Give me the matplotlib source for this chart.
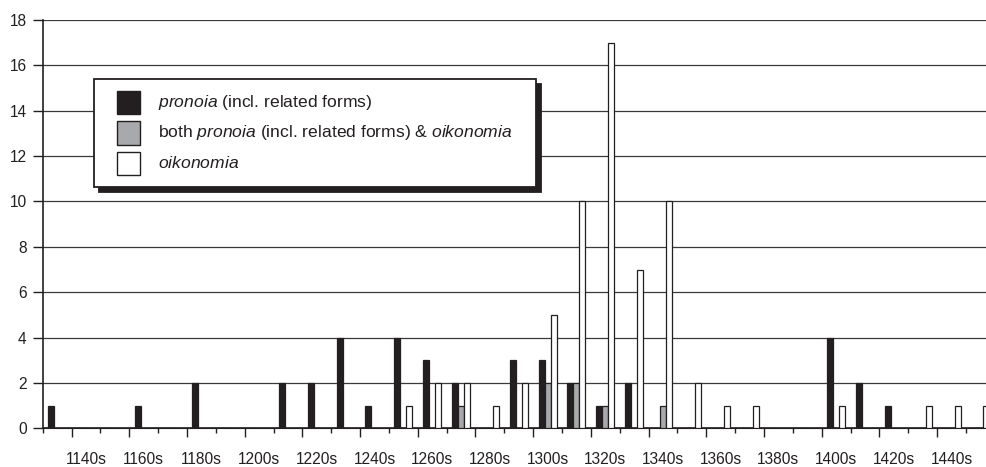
import numpy as np
import matplotlib
matplotlib.use("Agg")
import matplotlib.pyplot as plt
from matplotlib.patches import Rectangle

plt.rcParams["font.family"] = ["Liberation Sans", "DejaVu Sans"]
plt.rcParams["mathtext.fontset"] = "custom"
plt.rcParams["mathtext.rm"] = "Liberation Sans"
plt.rcParams["mathtext.it"] = "Liberation Sans:italic"

# decades shown on the category axis
decades = [1130, 1140, 1150, 1160, 1170, 1180, 1190, 1200, 1210, 1220, 1230,
           1240, 1250, 1260, 1270, 1280, 1290, 1300, 1310, 1320, 1330, 1340,
           1350, 1360, 1370, 1380, 1390, 1400, 1410, 1420, 1430, 1440, 1450]
decade_labels = [f"{d}s" for d in decades]

pronoia = [1, 0, 0, 1, 0, 2, 0, 0, 2, 2, 4, 1, 4, 3, 2, 0, 3, 3, 2, 1, 2,
           0, 0, 0, 0, 0, 0, 4, 2, 1, 0, 0, 0]
both = [None, None, None, None, None, None, None, None, None, None, None,
        None, None, None, 1, None, None, 2, 2, 1, None, 1,
        None, None, None, None, None, None, None, None, None, None, None]
oikonomia = [None, None, None, None, None, None, None, None, None, None, None,
             None, 1, 2, 2, 1, 2, 5, 10, 17, 7, 10,
             2, 1, 1, None, None, 1, None, None, 1, 1, 1]

yticks = [0, 2, 4, 6, 8, 10, 12, 14, 16, 18]

W, H = 987, 467
DARK = "#231f20"
GREY = "#a7a9ac"


def to_arr(vals):
    return np.array([np.nan if v is None else v for v in vals], dtype=float)


def px(x, y):
    # pixel position (top-left origin) -> figure fraction
    return x / W, 1 - y / H


fig = plt.figure(figsize=(W / 100, H / 100), dpi=100)
ax_left, ax_bottom = px(42.7, 428.3)
ax_top = px(0, 20)[1]
ax = fig.add_axes([ax_left, ax_bottom, 1 - ax_left, ax_top - ax_bottom])

x = np.arange(len(decades))
w = 0.208
bar_kw = dict(width=w, edgecolor=DARK, linewidth=0.9, zorder=3)
ax.bar(x - w, to_arr(pronoia), color=DARK, **bar_kw)
ax.bar(x, to_arr(both), color=GREY, **bar_kw)
ax.bar(x + w, to_arr(oikonomia), color="white", **bar_kw)

ax.set_xlim(-0.5, 32.23)
ax.set_ylim(0, 18)
ax.set_yticks(yticks)
ax.yaxis.grid(True, color="#3a3a3a", linewidth=0.9)
ax.set_axisbelow(True)
ax.tick_params(axis="y", length=7, width=1, color=DARK, pad=4.5,
               labelsize=11.2, labelcolor=DARK)

# labels on every other decade, centred in the category
lab_idx = x[1::2]
ax.set_xticks(lab_idx, [decade_labels[i] for i in lab_idx])
ax.tick_params(axis="x", which="major", length=0, pad=17,
               labelsize=11.2, labelcolor=DARK)
ax.set_xticks(np.arange(-0.5, len(decades), 2), minor=True)
ax.tick_params(axis="x", which="minor", length=3.6, width=1, color=DARK)

sec = ax.secondary_xaxis("bottom")
sec.set_xticks(np.arange(0.5, len(decades), 2))
sec.tick_params(length=6.8, width=1, color=DARK, labelbottom=False)
sec.spines["bottom"].set_color(DARK)

for s in ["top", "right"]:
    ax.spines[s].set_visible(False)
for s in ["left", "bottom"]:
    ax.spines[s].set_color(DARK)
    ax.spines[s].set_linewidth(1.2)

# legend box with drop shadow
tf = fig.transFigure
x0, y0, x1, y1 = 94, 79, 536, 187
for dx, fc, ec in [(5, DARK, DARK), (0, "white", DARK)]:
    bx, by = px(x0 + dx, y1 + dx)
    bw, bh = (x1 - x0) / W, (y1 - y0) / H
    ax.add_patch(Rectangle((bx, by), bw, bh, transform=tf, facecolor=fc,
                           edgecolor=ec, linewidth=1.3, zorder=6,
                           clip_on=False))

entries = [
    (DARK, r"$\mathit{pronoia}$ (incl. related forms)"),
    (GREY, r"both $\mathit{pronoia}$ (incl. related forms) & $\mathit{oikonomia}$"),
    ("white", r"$\mathit{oikonomia}$"),
]
for k, (fc, label) in enumerate(entries):
    top = 91 + k * 30.5
    sx, sy = px(117, top + 23)
    ax.add_patch(Rectangle((sx, sy), 23 / W, 23 / H, transform=tf,
                           facecolor=fc, edgecolor=DARK, linewidth=1,
                           zorder=7, clip_on=False))
    tx, ty = px(158, top + 11.5)
    ax.text(tx, ty, label, transform=tf, fontsize=12.6, color=DARK,
            va="center", ha="left", zorder=8)

fig.savefig("out.png", dpi=100)
